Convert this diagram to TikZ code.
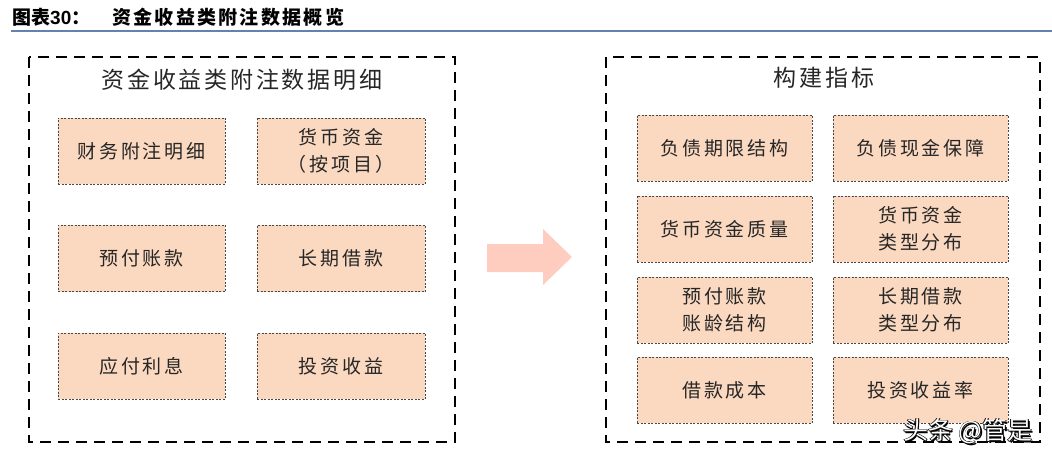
\documentclass[tikz,border=0pt]{standalone}
\usepackage{fontspec}
\newfontfamily\cjk{Noto Sans CJK SC}
\newfontfamily\cjkesp[LetterSpace=15]{Noto Sans CJK SC}
\newfontfamily\cjktitre[LetterSpace=12]{Noto Sans CJK SC}
\newfontfamily\cjkentete[LetterSpace=12]{Noto Sans CJK SC}
\newfontfamily\arial{Liberation Sans}
\definecolor{bleutrait}{HTML}{6382AD}
\definecolor{peche}{HTML}{FBD9C1}
\definecolor{saumon}{HTML}{FFCCC0}
\definecolor{encre}{HTML}{262626}
\newcommand\ombre[3]{\makebox[0pt][l]{\raisebox{#2}{\hspace{#1}\textcolor{black}{#3}}}}
\begin{document}
\begin{tikzpicture}[x=1pt,y=-1pt]
            \tikzstyle{cadre}=[draw=black,line width=2.8pt,dash pattern=on 11pt off 7pt]
            \tikzstyle{case}=[draw=encre!85,fill=peche,line width=0.8pt,dash pattern=on 2pt off 1.5pt,minimum height=66pt,inner sep=0pt,align=center,text=encre,font=\cjkesp\fontsize{19}{27}\selectfont]
            \tikzset{titre/.style = {font=\cjktitre\fontsize{23}{27}\selectfont,text=encre,inner sep=0pt}}
            \useasboundingbox (0,0) rectangle (1052,457);
            % en-tete
            \node[anchor=west,inner sep=0pt,font=\bfseries\fontsize{19}{21}\selectfont] (t1) at (12,17) {\cjk 图表{\arial\bfseries 30}：};
            \node[anchor=west,inner sep=0pt,font=\cjkentete\bfseries\fontsize{19}{21}\selectfont] (t2) at (112,17) {资金收益类附注数据概览};
            \draw[bleutrait,line width=2pt] (11,31) -- (1052,31);
            % cadres
            \draw[cadre] (29,57) rectangle (455,442);
            \draw[cadre] (606,57) rectangle (1040,442);
            \node[titre] (g) at (242,80) {资金收益类附注数据明细};
            \node[titre] (d) at (824,78) {构建指标};
            % gauche
            \node[case,minimum width=167pt] (g1) at (141.5,151) {财务附注明细};
            \node[case,minimum width=168pt] (g2) at (341,151) {货币资金\\（按项目）};
            \node[case,minimum width=167pt] (g3) at (141.5,258.5) {预付账款};
            \node[case,minimum width=168pt] (g4) at (341,258.5) {长期借款};
            \node[case,minimum width=167pt] (g5) at (141.5,366) {应付利息};
            \node[case,minimum width=168pt] (g6) at (341,366) {投资收益};
            % droite
            \node[case,minimum width=175pt] (d1) at (724.5,148.5) {负债期限结构};
            \node[case,minimum width=175pt] (d2) at (920.5,148.5) {负债现金保障};
            \node[case,minimum width=175pt] (d3) at (724.5,229) {货币资金质量};
            \node[case,minimum width=175pt] (d4) at (920.5,229) {货币资金\\类型分布};
            \node[case,minimum width=175pt] (d5) at (724.5,310) {预付账款\\账龄结构};
            \node[case,minimum width=175pt] (d6) at (920.5,310) {长期借款\\类型分布};
            \node[case,minimum width=175pt] (d7) at (724.5,390) {借款成本};
            \node[case,minimum width=175pt] (d8) at (920.5,390) {投资收益率};
            % fleche
            \fill[saumon] (487,244) -- (543,244) -- (543,229) -- (572,257) -- (543,285) -- (543,272) -- (487,272) -- cycle;
            % filigrane
            \node[font=\cjk\fontsize{25}{27}\selectfont,inner sep=0pt] (f) at (968,432)
                {\ombre{-0.8pt}{0pt}{头条 @管是}\ombre{0.8pt}{0pt}{头条 @管是}\ombre{0pt}{0.8pt}{头条 @管是}\ombre{0pt}{-0.8pt}{头条 @管是}\ombre{1.6pt}{-1.6pt}{头条 @管是}\textcolor{white}{头条 @管是}};
        \end{tikzpicture}
\end{document}
